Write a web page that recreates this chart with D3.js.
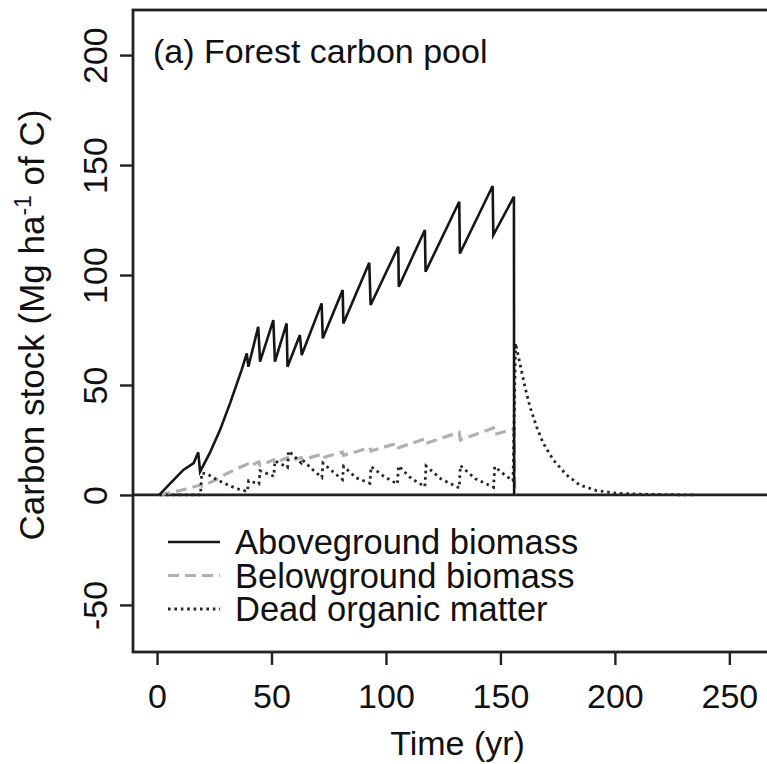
<!DOCTYPE html>
<html>
<head>
<meta charset="utf-8">
<script src="https://cdn.jsdelivr.net/npm/d3@7"></script>
<style>
body{margin:0;background:#fff}
svg{display:block}
text{font-family:"Liberation Sans",Arial,Helvetica,sans-serif;fill:#111}
</style>
</head>
<body>
<svg></svg>
<script>
// values
var aboveYears = [1,6,11.5,16,18,18.8,23,27.5,32,37,39.2,39.9,44.2,45,50.8,51.5,56.6,57,62.4,63.2,71.9,72.4,81.1,81.4,92.7,93.3,105.4,105.6,117,117.3,132,132.3,146.6,146.9,155.9,156]
var aboveValues = [0,5.5,11.4,14.5,19.4,10.6,19,29.5,42,57,64.4,58.3,76.5,60.6,79.5,60.6,78,58.3,72.7,63.6,87.1,71.2,93.2,78,105.6,86.4,112.9,94.7,120.5,101.5,133.3,109.8,140.5,118.2,135.6,0]

var belowYears = [1,10,19,19.5,25,30,35,39.5,40,44.5,45,51,51.5,57,57.5,63,63.5,72,72.5,81,81.5,93,93.5,105,105.5,117,117.5,132,132.5,147,147.5,156,156.3]
var belowValues = [0,2,4.5,4,6.5,9.5,12,14,13,15,13.5,16,14.5,17,15.5,17,16,18.5,17,19.5,18,21.5,20,23.5,21.5,25.5,23.5,28.5,25,30.5,27.5,30,0]

var deadYears = [1,19,19.5,22,26,31,35,39.5,40,44.5,45,51,51.5,57,57.5,63,63.5,68,72,72.5,78,81,81.5,87,93,93.5,99,105,105.5,111,117,117.5,124,132,132.5,139,147,147.5,152,155.5,156.6,158.5,160.7,162.9,165.8,168.7,173.1,178.9,184.7,192,200.7,210,220,234]
var deadValues = [0,0,10,9.5,7,4.5,2.8,1.6,6.5,5,11,8.5,15.5,12.5,20,14.5,16,11.5,8,14.5,9.5,7,13,7.8,5.3,12.9,8.5,5,13.2,7.5,3.8,13.2,7.3,3.2,13.4,7.4,3.5,12.9,9,6.5,69,59.9,49.2,40.1,31,23.5,15.9,9.1,4.5,2,0.8,0.4,0.2,0]

var xTicks = [0,50,100,150,200,250]
var yTicks = [-50,0,50,100,150,200]
var seriesNames = ["Aboveground biomass","Belowground biomass","Dead organic matter"]

var screen = {width:767, height:764}
var plot = {left:133, right:782, top:10, bottom:652}

var svg = d3.select("svg")
    .attr("width",screen.width)
    .attr("height",screen.height)

var xscale = d3.scaleLinear()
    .domain([-10.5,273])
    .range([plot.left,plot.right])
var yscale = d3.scaleLinear()
    .domain([-71.4,220.5])
    .range([plot.bottom,plot.top])

svg.append("clipPath").attr("id","clip")
    .append("rect")
    .attr("x",plot.left).attr("y",plot.top)
    .attr("width",plot.right-plot.left).attr("height",plot.bottom-plot.top)

var styles = [
    {stroke:"#161616", width:2.6, dash:null},
    {stroke:"#b0b0b0", width:3.2, dash:"11,6"},
    {stroke:"#262626", width:2.8, dash:"2.6,3.8"}
]

var toPoints = function(xs,ys){
    return xs.map(function(t,i){return [t,ys[i]]})
}
var line = d3.line()
    .x(function(d){return xscale(d[0])})
    .y(function(d){return yscale(d[1])})

var g = svg.append("g").attr("clip-path","url(#clip)")

// zero line
g.append("line")
    .attr("x1",plot.left).attr("x2",plot.right)
    .attr("y1",yscale(0)).attr("y2",yscale(0))
    .attr("stroke","#222").attr("stroke-width",2.8)

var allSeries = [toPoints(aboveYears,aboveValues),toPoints(belowYears,belowValues),toPoints(deadYears,deadValues)]
var order = [1,2,0]
order.forEach(function(i){
    g.append("path")
        .datum(allSeries[i])
        .attr("d",line)
        .attr("fill","none")
        .attr("stroke",styles[i].stroke)
        .attr("stroke-width",styles[i].width)
        .attr("stroke-dasharray",styles[i].dash)
        .attr("stroke-linejoin","miter")
})

// box
svg.append("rect")
    .attr("x",plot.left).attr("y",plot.top)
    .attr("width",plot.right-plot.left).attr("height",plot.bottom-plot.top)
    .attr("fill","none").attr("stroke","#222").attr("stroke-width",2.8)

// axes
var fmt = function(d){return String(d)}
var xAxis = svg.append("g")
    .attr("transform","translate(0,"+plot.bottom+")")
    .call(d3.axisBottom(xscale).tickValues(xTicks).tickFormat(fmt).tickSize(13).tickSizeOuter(0))
xAxis.select(".domain").remove()
xAxis.selectAll("line").attr("stroke","#222").attr("stroke-width",2.4)
xAxis.selectAll("text")
    .attr("y",null).attr("dy",null)
    .attr("transform","translate(0,56)")
    .style("font-size","34px")
    .attr("fill","#111")

var yAxis = svg.append("g")
    .attr("transform","translate("+plot.left+",0)")
    .call(d3.axisLeft(yscale).tickValues(yTicks).tickFormat(fmt).tickSize(13).tickSizeOuter(0))
yAxis.select(".domain").remove()
yAxis.selectAll("line").attr("stroke","#222").attr("stroke-width",2.4)
yAxis.selectAll("text")
    .attr("x",null).attr("dy",null)
    .attr("text-anchor","middle")
    .attr("transform","translate(-26,0) rotate(-90)")
    .style("font-size","34px")
    .attr("fill","#111")

// title inside plot
svg.append("text")
    .attr("x",153).attr("y",63)
    .style("font-size","34px")
    .text("(a) Forest carbon pool")

// axis titles
svg.append("text")
    .attr("x",(plot.left+plot.right)/2).attr("y",755)
    .attr("text-anchor","middle")
    .style("font-size","34px")
    .text("Time (yr)")

var ylab = svg.append("text")
    .attr("transform","translate(44,325) rotate(-90)")
    .attr("text-anchor","middle")
    .style("font-size","35px")
ylab.append("tspan").text("Carbon stock (Mg ha")
ylab.append("tspan").attr("dy",-13).style("font-size","23px").text("-1")
ylab.append("tspan").attr("dy",13).text(" of C)")

// legend
var legend = svg.append("g")
seriesNames.forEach(function(name,i){
    var ly = 542 + i*33.5
    legend.append("line")
        .attr("x1",168).attr("x2",220)
        .attr("y1",ly).attr("y2",ly)
        .attr("stroke",styles[i].stroke)
        .attr("stroke-width",styles[i].width)
        .attr("stroke-dasharray",styles[i].dash)
    legend.append("text")
        .attr("x",235).attr("y",ly+12)
        .style("font-size","34.5px")
        .text(name)
})
</script>
</body>
</html>
